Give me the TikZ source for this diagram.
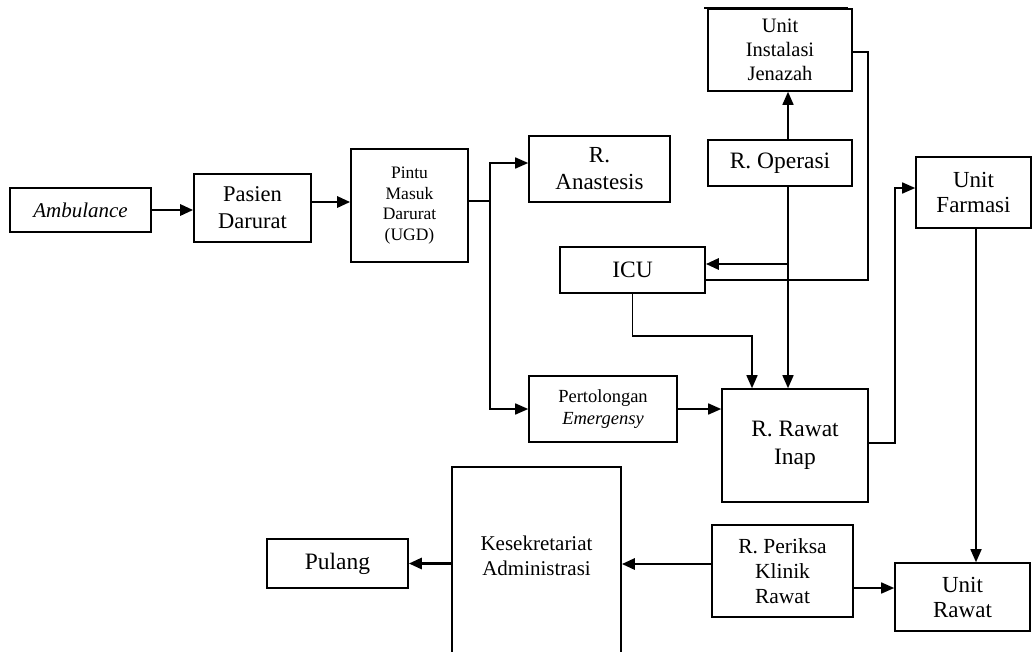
\documentclass[tikz,border=0pt]{standalone}
\usepackage{fontspec}
\setmainfont{Liberation Serif}
\usetikzlibrary{arrows.meta,calc}
\tikzset{
  box/.style={draw=black, line width=1.6pt, inner sep=0pt, align=center},
  conn/.style={line width=1.6pt},
  arr/.style={conn, -{Triangle[length=13pt,width=11pt]}},
  tarr/.style={line width=2.8pt, -{Triangle[length=13pt,width=11pt]}},
}
\begin{document}
\begin{tikzpicture}[x=1pt,y=-1pt]
\useasboundingbox (0,0) rectangle (1032,651);
\fill[white] (0,0) rectangle (1032,651);
\clip (0,0) rectangle (1032,651);

\node[box, minimum width=141pt, minimum height=44pt, font=\fontsize{21}{25}\selectfont\itshape] (amb) at (80.5,210) {Ambulance};
\node[box, minimum width=117pt, minimum height=68pt, font=\fontsize{22.5}{27}\selectfont] (pas) at (252.5,208) {Pasien\\Darurat};
\node[box, minimum width=117pt, minimum height=113pt, font=\fontsize{17.5}{20.5}\selectfont] (pin) at (409.5,205.5) {Pintu\\Masuk\\Darurat\\(UGD)};
\node[box, minimum width=141pt, minimum height=66pt, font=\fontsize{23}{27}\selectfont] (ana) at (599.5,169) {R.\\Anastesis};
\node[box, minimum width=144pt, minimum height=82pt, font=\fontsize{20.5}{24}\selectfont] (jen) at (780,50) {Unit\\Instalasi\\Jenazah};
\node[box, minimum width=144pt, minimum height=46pt, font=\fontsize{23.5}{28}\selectfont] (ope) at (780,163) {R. Operasi};
\node[box, minimum width=115pt, minimum height=71pt, font=\fontsize{23}{25}\selectfont] (far) at (973.5,192.5) {Unit\\Farmasi};
\node[box, minimum width=145pt, minimum height=46pt, font=\fontsize{23.5}{28}\selectfont] (icu) at (632.5,270) {ICU};
\node[box, minimum width=148pt, minimum height=66pt, font=\fontsize{18.5}{22}\selectfont] (per) at (603,409) {Pertolongan\\\textit{Emergensy}};
\node[box, minimum width=146pt, minimum height=113pt, font=\fontsize{23.5}{28}\selectfont] (ina) at (795,445.5) {R. Rawat\\Inap};
\node[box, minimum width=141pt, minimum height=92pt, font=\fontsize{21.5}{25}\selectfont] (rpk) at (782.5,571) {R. Periksa\\Klinik\\Rawat};
\node[box, minimum width=135pt, minimum height=68pt, font=\fontsize{23}{25}\selectfont] (ura) at (962.5,597) {Unit\\Rawat};
\node[box, minimum width=169pt, minimum height=203pt] (kes) at (536.5,568.5) {};
\node[align=center, inner sep=0pt, font=\fontsize{21}{25}\selectfont] (kest) at (536.5,556) {Kesekretariat\\Administrasi};
\node[box, minimum width=141pt, minimum height=49pt, font=\fontsize{23.5}{28}\selectfont] (pul) at (337.5,563.5) {Pulang};

% top edge of Jenazah box
\draw[line width=2.8pt] (704,8) -- (848,8);

% helper coordinates
\coordinate (sp) at (490,201);
\coordinate (xop) at (788,0);
\coordinate (cr) at (868,52);
\coordinate (ci) at (752,336);
\coordinate (cf) at (895,188);
\coordinate (xfa) at (976,0);

\draw[tarr] (amb.east) -- (amb.east -| pas.west);
\draw[tarr] (pas.east |- 0,202) -- (pin.west |- 0,202);
\draw[conn] (pin.east |- sp) -- (sp);
\draw[arr] (sp) |- (ana.west |- 0,163);
\draw[arr] (sp) |- (per.west);
\draw[arr] (xop |- ope.north) -- (xop |- jen.south);
\draw[arr] (xop |- ope.south) -- (xop |- ina.north);
\draw[tarr] (xop |- 0,264) -- (icu.east |- 0,264);
\draw[conn] (icu.east |- 0,280) -| (cr) -- (cr -| jen.east);
\draw[arr] (icu.south) |- (ci) -- (ci |- ina.north);
\draw[arr] (per.east) -- (per.east -| ina.west);
\draw[arr] (ina.east |- 0,443) -| (cf) -- (cf -| far.west);
\draw[arr] (xfa |- far.south) -- (xfa |- ura.north);
\draw[arr] (rpk.east |- 0,588) -- (ura.west |- 0,588);
\draw[tarr] (rpk.west |- 0,564) -- (kes.east |- 0,564);
\draw[tarr] (kes.west |- pul.east) -- (pul.east);
\end{tikzpicture}
\end{document}
